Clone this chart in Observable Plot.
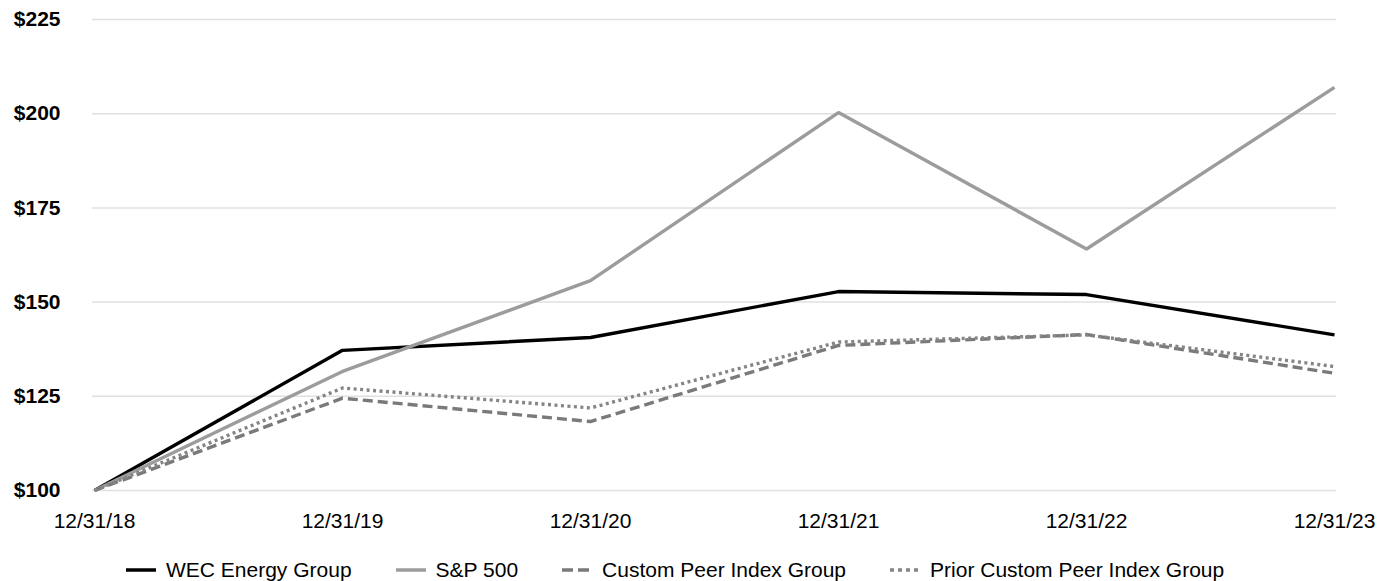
<!DOCTYPE html>
<html>
<head>
<meta charset="utf-8">
<script src="https://cdn.jsdelivr.net/npm/d3@7"></script>
<script src="https://cdn.jsdelivr.net/npm/@observablehq/plot@0.6"></script>
<style>
  html, body { margin: 0; padding: 0; background: #fff; }
  body { width: 1377px; height: 581px; position: relative; overflow: hidden; font-family: "Liberation Sans", Arial, sans-serif; }
  #legend { position: absolute; left: 126px; top: 557px; height: 26px; display: flex; align-items: center; gap: 44px; font-size: 21px; color: #000; }
  #legend .item { display: flex; align-items: center; gap: 10px; white-space: nowrap; }
  #legend svg { display: block; }
</style>
</head>
<body>
<div id="chart"></div>
<div id="legend"></div>
<script>
const dates = ["12/31/18", "12/31/19", "12/31/20", "12/31/21", "12/31/22", "12/31/23"];
const wec = [100, 137.2, 140.6, 152.8, 152.0, 141.3];
const sp500 = [100, 131.6, 155.7, 200.3, 164.1, 207.0];
const customPeer = [100, 124.5, 118.3, 138.5, 141.4, 131.1];
const priorCustomPeer = [100, 127.2, 121.9, 139.4, 141.3, 132.9];
const yTicks = [100, 125, 150, 175, 200, 225];

const series = [
  {name: "WEC Energy Group", values: wec, stroke: "#000000", dash: null},
  {name: "S&P 500", values: sp500, stroke: "#9c9c9c", dash: null},
  {name: "Custom Peer Index Group", values: customPeer, stroke: "#7a7a7a", dash: "10,5"},
  {name: "Prior Custom Peer Index Group", values: priorCustomPeer, stroke: "#858585", dash: "3,3.5"}
];

const lineMarks = series.map(s => Plot.line(
  dates.map((d, i) => ({date: d, value: s.values[i]})),
  {x: "date", y: "value", stroke: s.stroke, strokeWidth: 3.4,
   strokeDasharray: s.dash || undefined, strokeLinejoin: "miter", strokeLinecap: "butt"}
));

const chart = Plot.plot({
  width: 1377,
  height: 535,
  marginLeft: 92,
  marginRight: 41,
  marginTop: 19,
  marginBottom: 45,
  style: {fontFamily: "'Liberation Sans', Arial, sans-serif", fontSize: "21px", color: "#000", background: "#fff"},
  x: {type: "point", domain: dates, padding: 0, label: null},
  y: {domain: [100, 225], label: null},
  marks: [
    Plot.ruleY(yTicks, {stroke: "#e0e0e0", strokeWidth: 1.5}),
    Plot.axisY({ticks: yTicks, tickFormat: d => "$" + d, tickSize: 0, tickPadding: 32, fontWeight: "bold", fontSize: 21, label: null}),
    Plot.axisX({tickSize: 0, tickPadding: 23, fontSize: 21, label: null}),
    ...lineMarks
  ]
});
document.getElementById("chart").appendChild(chart);

const legend = document.getElementById("legend");
series.forEach(s => {
  const item = document.createElement("div");
  item.className = "item";
  const ns = "http://www.w3.org/2000/svg";
  const svg = document.createElementNS(ns, "svg");
  svg.setAttribute("width", 30);
  svg.setAttribute("height", 10);
  const ln = document.createElementNS(ns, "line");
  ln.setAttribute("x1", 0); ln.setAttribute("x2", 30);
  ln.setAttribute("y1", 5); ln.setAttribute("y2", 5);
  ln.setAttribute("stroke", s.stroke);
  ln.setAttribute("stroke-width", 3.5);
  if (s.dash) ln.setAttribute("stroke-dasharray", s.dash === "10,5" ? "11,5" : "4,4");
  svg.appendChild(ln);
  const t = document.createElement("span");
  t.textContent = s.name;
  item.appendChild(svg);
  item.appendChild(t);
  legend.appendChild(item);
});
</script>
</body>
</html>
